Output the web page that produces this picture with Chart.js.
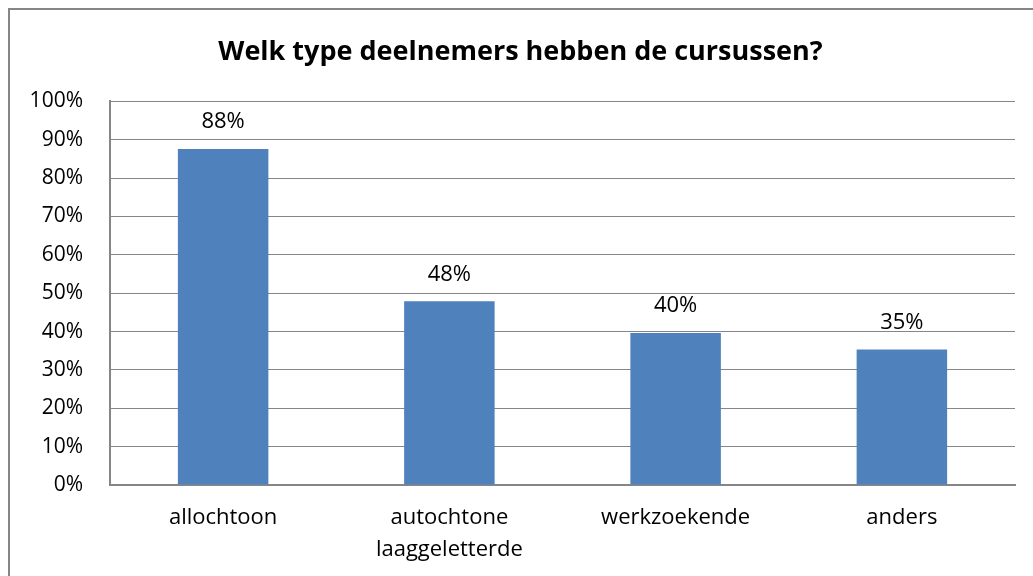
<!DOCTYPE html>
<html>
<head>
<meta charset="utf-8">
<script src="https://cdn.jsdelivr.net/npm/chart.js@4/dist/chart.umd.min.js"></script>
<style>
  html, body { margin: 0; padding: 0; background: #fff; }
  #wrap { width: 1033px; height: 576px; }
</style>
</head>
<body>
<div id="wrap"><canvas id="chart" width="1033" height="576"></canvas></div>
<script>
var categories = ['allochtoon', ['autochtone', 'laaggeletterde'], 'werkzoekende', 'anders'];
var percentages = [87.6, 47.9, 39.6, 35.3];
var yTicks = [0, 10, 20, 30, 40, 50, 60, 70, 80, 90, 100];

var fontFamily = "'Open Sans', 'Noto Sans', sans-serif";

// outer frame of the chart object
var framePlugin = {
    id: 'frame',
    beforeDraw: function (chart) {
        var c = chart.ctx;
        c.save();
        c.fillStyle = '#ffffff';
        c.fillRect(0, 0, chart.width, chart.height);
        c.strokeStyle = '#868686';
        c.lineWidth = 2;
        c.strokeRect(9, 9, chart.width + 20, chart.height + 20);
        c.restore();
    }
};

// value labels above the bars
var labelPlugin = {
    id: 'barLabels',
    afterDatasetsDraw: function (chart) {
        var c = chart.ctx;
        var meta = chart.getDatasetMeta(0);
        c.save();
        c.font = '22px ' + fontFamily;
        c.fillStyle = '#000000';
        c.textAlign = 'center';
        c.textBaseline = 'middle';
        meta.data.forEach(function (bar, i) {
            c.fillText(Math.round(percentages[i]) + '%', bar.x, bar.y - 27);
        });
        c.restore();
    }
};

new Chart(document.getElementById('chart').getContext('2d'), {
    type: 'bar',
    data: {
        labels: categories,
        datasets: [{
            data: percentages,
            backgroundColor: '#4F81BD',
            borderWidth: 0,
            barPercentage: 0.4,
            categoryPercentage: 1.0
        }]
    },
    options: {
        responsive: false,
        animation: false,
        layout: { padding: { left: 26, right: 18, top: 0, bottom: 0 } },
        plugins: {
            legend: { display: false },
            tooltip: { enabled: false },
            title: {
                display: true,
                text: 'Welk type deelnemers hebben de cursussen?',
                color: '#000000',
                font: { family: fontFamily, size: 27, weight: 'bold', lineHeight: 1.2 },
                padding: { top: 36, bottom: 33 }
            }
        },
        scales: {
            x: {
                grid: { display: false, drawTicks: false },
                border: { display: true, color: '#868686', width: 2 },
                ticks: {
                    color: '#000000',
                    font: { family: fontFamily, size: 22, lineHeight: 1.45 },
                    padding: 17,
                    maxRotation: 0
                },
                afterFit: function (scale) { scale.height = 91; }
            },
            y: {
                min: 0,
                max: 100,
                afterBuildTicks: function (scale) {
                    scale.ticks = yTicks.map(function (v) { return { value: v }; });
                },
                grid: { color: '#868686', lineWidth: 1, drawTicks: false },
                border: { display: true, color: '#868686', width: 2 },
                ticks: {
                    color: '#000000',
                    font: { family: fontFamily, size: 21 },
                    padding: 27,
                    callback: function (v) { return v + '%'; }
                },
                afterFit: function (scale) { scale.width = 84; }
            }
        }
    },
    plugins: [framePlugin, labelPlugin]
});
</script>
</body>
</html>
